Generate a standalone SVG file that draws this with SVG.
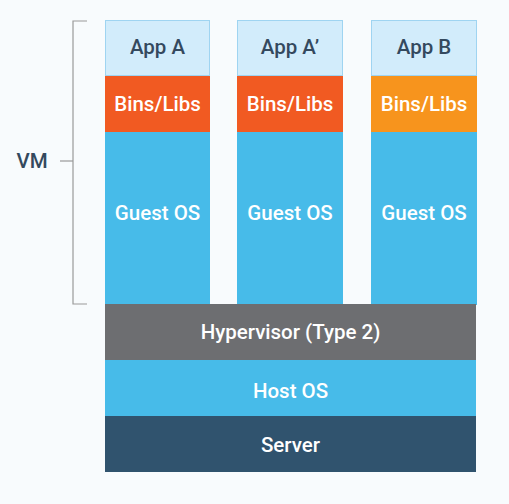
<svg xmlns="http://www.w3.org/2000/svg" width="509" height="504" viewBox="0 0 509 504">
<style>
text{font-family:Roboto,"Liberation Sans",sans-serif;font-size:20.5px;font-weight:500;text-anchor:middle;dominant-baseline:central}
.app{fill:#d2ecfb;stroke:#9fd4f1;stroke-width:1}
.apptxt{fill:#34495e}
.w{fill:#ffffff}
.os{fill:#47bbe9}
.red{fill:#f15a22}
.org{fill:#f7941d}
.line{fill:none;stroke:#9a9a9a;stroke-width:1.2}
</style>
<rect width="509" height="504" fill="#f8fbfd"/>
<g id="vm1">
<rect class="app" x="105.5" y="20.5" width="104" height="55"/>
<text class="apptxt" x="157.5" y="47">App A</text>
<rect class="red" x="105" y="76" width="105" height="56"/>
<text class="w" x="157.5" y="104">Bins/Libs</text>
<rect class="os" x="105" y="132" width="105" height="173"/>
<text class="w" x="157.5" y="213">Guest OS</text>
</g>
<g id="vm2">
<rect class="app" x="237.5" y="20.5" width="105" height="55"/>
<text class="apptxt" x="290" y="47">App A’</text>
<rect class="red" x="237" y="76" width="106" height="56"/>
<text class="w" x="290" y="104">Bins/Libs</text>
<rect class="os" x="237" y="132" width="106" height="173"/>
<text class="w" x="290" y="213">Guest OS</text>
</g>
<g id="vm3">
<rect class="app" x="371.5" y="20.5" width="105" height="55"/>
<text class="apptxt" x="424" y="47">App B</text>
<rect class="org" x="371" y="76" width="106" height="56"/>
<text class="w" x="424" y="104">Bins/Libs</text>
<rect class="os" x="371" y="132" width="106" height="173"/>
<text class="w" x="424" y="213">Guest OS</text>
</g>
<g id="hypervisor">
<rect x="105" y="304" width="371" height="56" fill="#6d6e71"/>
<text class="w" x="290.5" y="332">Hypervisor (Type 2)</text>
</g>
<g id="hostos">
<rect x="105" y="360" width="371" height="56" fill="#47bbe9"/>
<text class="w" x="290.5" y="391">Host OS</text>
</g>
<g id="server">
<rect x="105" y="416" width="371" height="56" fill="#30536e"/>
<text class="w" x="290.5" y="445">Server</text>
</g>
<g id="connectors">
<path class="line" d="M87,21 H73 V304 H87"/>
<path class="line" d="M60,161 H73"/>
</g>
<g id="vm-label">
<text class="apptxt" x="32" y="161">VM</text>
</g>
</svg>
